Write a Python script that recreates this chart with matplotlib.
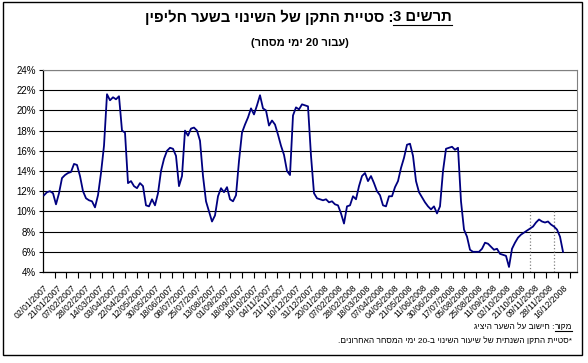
import numpy as np
import matplotlib
matplotlib.use('Agg')
import matplotlib.pyplot as plt
from matplotlib.lines import Line2D
from matplotlib.patches import Rectangle

plt.rcParams['font.family'] = ['Liberation Sans', 'DejaVu Sans']

# tick label dates (dd/mm)
dates_2007 = ['02/01', '21/01', '07/02', '28/02', '14/03', '03/04', '22/04', '12/05',
              '30/05', '18/06', '08/07', '25/07', '13/08', '01/09', '18/09', '10/10',
              '04/11', '21/11', '10/12', '31/12']
dates_2008 = ['20/01', '07/02', '28/02', '18/03', '07/04', '04/05', '21/05', '11/06',
              '30/06', '17/07', '05/08', '25/08', '11/09', '02/10', '21/10', '09/11',
              '28/11', '16/12']
tick_labels = [d + '/2007' for d in dates_2007] + [d + '/2008' for d in dates_2008]

# 20-day std of exchange rate change (%)
vol = [11.6, 11.9, 12.0, 11.8, 10.7, 11.8, 13.3, 13.6, 13.8, 13.9,
       14.7, 14.6, 13.5, 12.0, 11.3, 11.1, 11.0, 10.4, 11.6, 13.8,
       16.5, 21.6, 21.0, 21.3, 21.1, 21.4, 18.0, 17.8, 12.8, 13.0,
       12.5, 12.3, 12.8, 12.5, 10.6, 10.5, 11.2, 10.6, 11.8, 14.0,
       15.2, 16.0, 16.3, 16.2, 15.5, 12.5, 13.5, 18.0, 17.5, 18.2,
       18.3, 18.0, 17.0, 13.5, 11.0, 10.0, 9.0, 9.6, 11.5, 12.3,
       11.9, 12.4, 11.2, 11.0, 11.6, 15.0, 17.8, 18.6, 19.3, 20.2,
       19.6, 20.5, 21.5, 20.2, 20.0, 18.5, 19.0, 18.6, 17.6, 16.5,
       15.6, 14.0, 13.6, 19.5, 20.3, 20.1, 20.6, 20.5, 20.4, 15.5,
       11.8, 11.3, 11.2, 11.1, 11.2, 10.9, 11.0, 10.7, 10.6, 9.8,
       8.8, 10.5, 10.6, 11.5, 11.2, 12.5, 13.5, 13.8, 13.0, 13.5,
       12.8, 12.0, 11.6, 10.6, 10.5, 11.5, 11.5, 12.4, 13.0, 14.3,
       15.3, 16.6, 16.7, 15.5, 13.0, 11.9, 11.4, 10.9, 10.5, 10.2,
       10.5, 9.8, 10.5, 14.0, 16.2, 16.3, 16.4, 16.1, 16.3, 11.0,
       8.2, 7.5, 6.2, 6.0, 6.0, 6.0, 6.3, 6.9, 6.8, 6.5,
       6.2, 6.3, 5.8, 5.7, 5.6, 4.5, 6.3, 6.9, 7.4, 7.7,
       7.9, 8.1, 8.3, 8.5, 8.9, 9.2, 9.0, 8.9, 9.0, 8.7,
       8.5, 8.2, 7.5, 6.0]

y_ticks = list(range(4, 25, 2))
event_idx = [162, 170]

W, H = 588, 363
fig = plt.figure(figsize=(W / 100, H / 100), dpi=100)
fig.add_artist(Rectangle((3 / W, 1 - 355 / H), 579 / W, 353 / H, transform=fig.transFigure,
                         fill=False, ec='black', lw=1))

ax = fig.add_axes([43 / W, 1 - 272 / H, (577 - 43) / W, (272 - 70) / H])
x = np.arange(len(vol))
ax.plot(x, vol, color='#000080', lw=1.3, zorder=3)
for e in event_idx:
    ax.axvline(e, ymin=0, ymax=0.3, color='#808080', ls=':', lw=0.9, zorder=2)

ax.set_ylim(4, 24)
ax.set_xlim(-1 / 3, len(vol) - 1 + 14 / 3)
ax.set_yticks(y_ticks)
ax.set_yticklabels([f'{v}%' for v in y_ticks], fontsize=7)
ax.grid(axis='y', color='black', lw=0.8, zorder=1)
ax.tick_params(axis='y', length=3, width=0.8, pad=2)

lab_pos = np.linspace(-1 / 3, len(vol) - 1, len(tick_labels))
ax.set_xticks(lab_pos)
ax.set_xticklabels(tick_labels, fontsize=6.2, rotation=45, ha='right', va='top',
                   rotation_mode='anchor')
ax.tick_params(axis='x', length=0, pad=8)
ax.set_xticks(np.arange(-1 / 3, len(vol) + 4, 3.9), minor=True)
ax.tick_params(axis='x', which='minor', length=4, width=0.8)

for s in ['top', 'right']:
    ax.spines[s].set_color('#808080')
    ax.spines[s].set_linewidth(0.8)
for s in ['left', 'bottom']:
    ax.spines[s].set_linewidth(0.9)

# titles (Hebrew in visual order)
t_right = fig.text(452 / W, 1 - 17 / H, '3 םישרת', fontsize=10.7, fontweight='bold',
                   ha='right', va='center')
fig.text(300 / W, 1 - 43 / H, '(רחסמ ימי 20 רובע)', fontsize=8, fontweight='bold',
         ha='center', va='center')
f_right = fig.text(572 / W, 1 - 327 / H, 'רוקמ', fontsize=6, ha='right', va='center')
fig.text(572 / W, 1 - 341 / H, '.םינורחאה רחסמה ימי 20-ב יונישה רועיש לש תיתנשה ןקתה תייטס*',
         fontsize=6, ha='right', va='center')

fig.canvas.draw()
r = fig.canvas.get_renderer()
for t, rest, fs, bold in [(t_right, 'ןיפילח רעשב יונישה לש ןקתה תייטס :', 10.7, True),
                          (f_right, 'גיציה רעשה לע בושיח :', 6, False)]:
    bb = t.get_window_extent(r)
    fig.text(bb.x0 / W, t.get_position()[1], rest, fontsize=fs,
             fontweight='bold' if bold else 'normal', ha='right', va='center')
    fig.add_artist(Line2D([bb.x0 / W, bb.x1 / W], [(bb.y0 - 0.5) / H] * 2,
                          transform=fig.transFigure, color='black', lw=0.8))

fig.savefig('out.png', dpi=100)
